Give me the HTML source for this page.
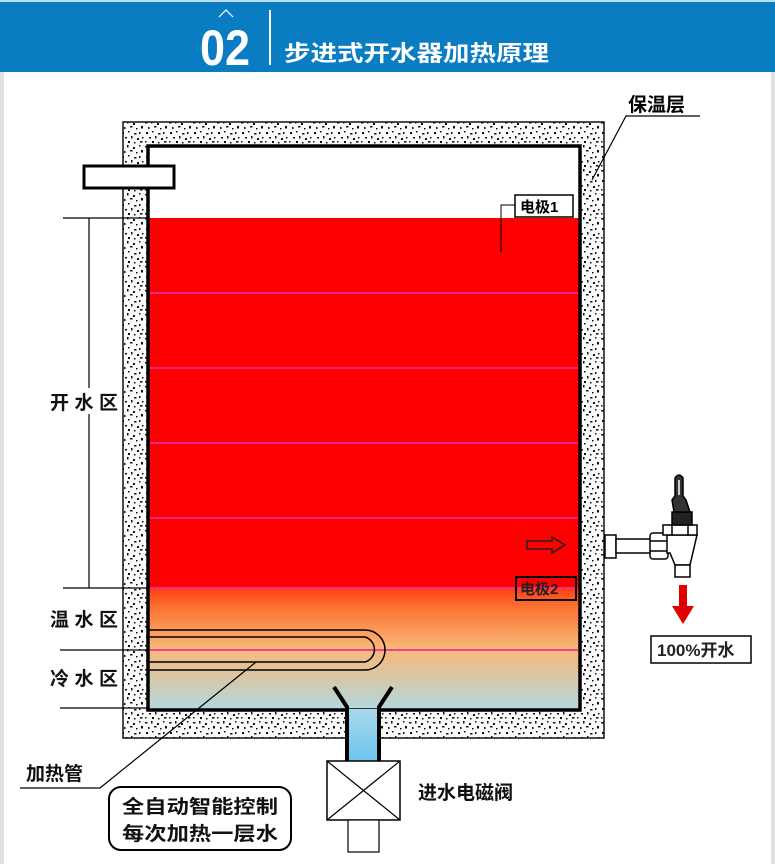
<!DOCTYPE html>
<html><head><meta charset="utf-8"><style>
html,body{margin:0;padding:0;background:#fff;}
svg{display:block;}
text{font-family:"Liberation Sans","Noto Sans CJK SC",sans-serif;}
</style></head><body>
<svg width="775" height="864" viewBox="0 0 775 864" xmlns="http://www.w3.org/2000/svg">
<defs>
<pattern id="sp" width="24" height="24" patternUnits="userSpaceOnUse">
<rect width="24" height="24" fill="#fbfbfb"/>
<g fill="#111">
<rect x="1" y="2" width="2.5" height="1.5"/><rect x="7" y="1" width="1.5" height="2.5"/><rect x="13" y="3" width="2" height="2"/><rect x="19" y="1" width="1.5" height="1.5"/>
<rect x="4" y="7" width="1.5" height="2"/><rect x="10" y="6" width="2.5" height="1.5"/><rect x="16" y="8" width="1.5" height="1.5"/><rect x="21" y="6" width="2" height="2.5"/>
<rect x="2" y="12" width="2" height="2"/><rect x="8" y="11" width="1.5" height="1.5"/><rect x="14" y="13" width="2.5" height="1.5"/><rect x="19" y="12" width="1.5" height="2"/>
<rect x="5" y="17" width="2" height="1.5"/><rect x="11" y="16" width="1.5" height="2.5"/><rect x="17" y="18" width="2" height="2"/><rect x="22" y="17" width="1.5" height="1.5"/>
<rect x="1" y="21" width="1.5" height="1.5"/><rect x="8" y="21" width="2" height="2"/><rect x="14" y="22" width="1.5" height="1.5"/><rect x="20" y="21" width="2.5" height="1.5"/>
</g></pattern>
<linearGradient id="wg" x1="0" y1="0" x2="0" y2="1">
<stop offset="0" stop-color="#ff3c10"/><stop offset="0.15" stop-color="#fc7030"/><stop offset="0.5" stop-color="#f8b878"/><stop offset="1" stop-color="#b4d8dc"/>
</linearGradient>
<linearGradient id="bl" x1="0" y1="0" x2="0" y2="1"><stop offset="0" stop-color="#a8d8ec"/><stop offset="1" stop-color="#6cc4ee"/></linearGradient>
</defs>
<rect x="0" y="0" width="775" height="72" fill="#0a7cc1"/>
<rect x="0" y="0" width="775" height="2" fill="#bcdcf0"/>
<rect x="0" y="72" width="4" height="792" fill="#e0e0e0"/>
<rect x="771" y="72" width="4" height="792" fill="#e0e0e0"/>
<path d="M219 17 L226 10 L233 17" fill="none" stroke="#fff" stroke-width="1.2"/>
<text x="200" y="65" fill="#fff" font-size="50" font-weight="bold" textLength="50" lengthAdjust="spacingAndGlyphs">02</text>
<rect x="269" y="10" width="2" height="55" fill="#fff"/>
<text x="284" y="61" fill="#fff" font-size="22" font-weight="bold" textLength="265" lengthAdjust="spacingAndGlyphs">步进式开水器加热原理</text>
<!-- tank -->
<rect x="123" y="122" width="481" height="616" fill="url(#sp)" stroke="#111" stroke-width="1.5"/>
<rect x="148" y="146" width="432" height="564" fill="#fff"/>
<rect x="148" y="218" width="432" height="370" fill="#fe0000"/>
<rect x="148" y="588" width="432" height="121" fill="url(#wg)"/>
<rect x="148" y="146" width="432" height="564" fill="none" stroke="#000" stroke-width="3.5"/>
<g stroke="#f0309a" stroke-width="1.8">
<line x1="150" y1="293" x2="578" y2="293"/><line x1="150" y1="368" x2="578" y2="368"/><line x1="150" y1="443" x2="578" y2="443"/><line x1="150" y1="518" x2="578" y2="518"/><line x1="150" y1="588" x2="578" y2="588"/><line x1="150" y1="650" x2="578" y2="650"/>
</g>
<line x1="60" y1="650" x2="148" y2="650" stroke="#000" stroke-width="1.2"/>
<rect x="84" y="166" width="90" height="22" fill="#fff" stroke="#000" stroke-width="3"/>
<!-- left dims -->
<g stroke="#000" stroke-width="1.2">
<line x1="63" y1="218" x2="148" y2="218"/><line x1="63" y1="588" x2="148" y2="588"/><line x1="60" y1="708" x2="148" y2="708"/><line x1="89" y1="218" x2="89" y2="588"/>
</g>
<rect x="48" y="388" width="72" height="26" fill="#fff"/>
<text x="50" y="409" font-size="19" font-weight="bold" textLength="68" fill="#111">开水区</text>
<text x="50" y="626" font-size="19" font-weight="bold" textLength="68" fill="#111">温水区</text>
<text x="50" y="685" font-size="19" font-weight="bold" textLength="68" fill="#111">冷水区</text>
<!-- heating tube -->
<path d="M149 630 L365 630 A20 20 0 0 1 365 670 L149 670" fill="none" stroke="#000" stroke-width="1.5"/>
<path d="M149 637 L365 637 A13 13 0 0 1 365 662 L149 662" fill="none" stroke="#000" stroke-width="1.5"/>
<polyline points="256,662 100,788 20,788" fill="none" stroke="#000" stroke-width="1.2"/>
<text x="26" y="780" font-size="19" font-weight="bold" fill="#111">加热管</text>
<rect x="109" y="787" width="182" height="63" rx="12" fill="#fff" stroke="#000" stroke-width="2"/>
<text x="122" y="813" font-size="19" font-weight="bold" fill="#111" textLength="156" lengthAdjust="spacingAndGlyphs">全自动智能控制</text>
<text x="122" y="840" font-size="19" font-weight="bold" fill="#111" textLength="156" lengthAdjust="spacingAndGlyphs">每次加热一层水</text>
<!-- inlet -->
<path d="M347 709 L347 762 L379 762 L379 709 Z" fill="url(#bl)"/>
<path d="M334 687 L347 707 L347 762 M392 687 L379 707 L379 762" fill="none" stroke="#000" stroke-width="4"/>
<rect x="327" y="761" width="73" height="59" fill="#fff" stroke="#000" stroke-width="1.5"/>
<path d="M327 761 L400 820 M400 761 L327 820" stroke="#000" stroke-width="1.2"/>
<rect x="348" y="820" width="31" height="32" fill="#fff" stroke="#000" stroke-width="1.2"/>
<text x="418" y="799" font-size="19" font-weight="bold" fill="#111">进水电磁阀</text>
<!-- 保温层 -->
<text x="628" y="111" font-size="19" font-weight="bold">保温层</text>
<polyline points="700,116 626,116 592,180" fill="none" stroke="#000" stroke-width="1.2"/>
<!-- electrodes -->
<rect x="515" y="195" width="58" height="22" fill="#fff" stroke="#000" stroke-width="1.5"/>
<text x="520" y="212" font-size="15" font-weight="bold">电极1</text>
<polyline points="515,205 501,205 501,252" fill="none" stroke="#000" stroke-width="1"/>
<rect x="516" y="577" width="60" height="23" fill="none" stroke="#000" stroke-width="2"/>
<text x="520" y="594" font-size="15" font-weight="bold" fill="#222">电极2</text>
<path d="M527 541 L552 541 L552 537 L565 545 L552 553 L552 549 L527 549 Z" fill="none" stroke="#222" stroke-width="1.5"/>
<!-- faucet -->
<g fill="#fff" stroke="#000" stroke-width="1.5">
<rect x="605" y="535" width="11" height="23"/>
<rect x="616" y="539" width="35" height="14"/>
<rect x="650" y="533" width="18" height="26" rx="3"/>
<line x1="650" y1="541" x2="668" y2="541"/><line x1="650" y1="551" x2="668" y2="551"/>
<path d="M667 535 L697 535 L690 565 L675 565 L670 553 L667 553 Z"/>
<rect x="675" y="565" width="15" height="12"/>
<rect x="663" y="525" width="34" height="10"/>
<line x1="672" y1="525" x2="672" y2="535"/><line x1="688" y1="525" x2="688" y2="535"/>
<rect x="672" y="512" width="20" height="13" fill="#222"/>
<path d="M674 512 L690 512 L686 500 L683 496 L683 478 Q679 472 675 478 L675 496 L672 500 Z" fill="#333"/>
<line x1="679" y1="480" x2="679" y2="495" stroke="#fff" stroke-width="1.5"/>
</g>
<path d="M679 585 L687 585 L687 606 L694 606 L683 624 L672 606 L679 606 Z" fill="#e00000"/>
<rect x="651" y="636" width="100" height="27" fill="#fff" stroke="#000" stroke-width="1.5"/>
<text x="657" y="656" font-size="17" font-weight="bold" fill="#222">100%开水</text>
</svg>
</body></html>
